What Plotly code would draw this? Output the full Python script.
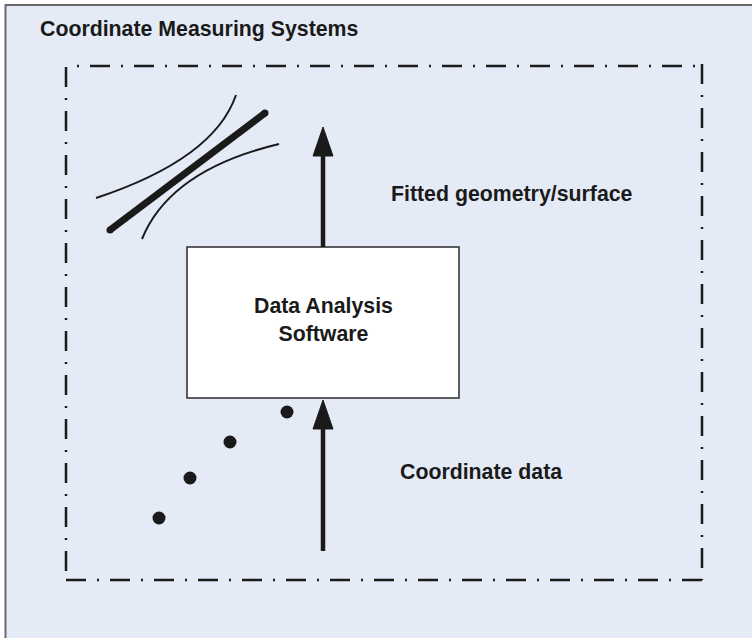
import plotly.graph_objects as go

# ---- diagram data (pixel-space coordinates on a 752 x 638 canvas) ----
W, H = 752, 638
BG = "#e5ebf6"

title_text = "Coordinate Measuring Systems"
box_text = "Data Analysis<br>Software"
upper_label = "Fitted geometry/surface"
lower_label = "Coordinate data"

# measured coordinate points
points_x = [159, 190, 230, 287]
points_y = [518, 478, 442, 412]

# fitted line (thick)
fit_x = [110, 265]
fit_y = [230, 113]

# uncertainty band curves: start, control, end (quadratic)
band_upper_x = [96, 214, 236]
band_upper_y = [198, 159, 95]
band_lower_x = [142, 170, 279]
band_lower_y = [239, 170, 144]

# software box [x0, x1], [y0, y1]
box_x = [187, 459]
box_y = [247, 398]

# arrows: x position, tail y, tip y
arrow_x = [323, 323]
arrow_tail_y = [247, 551]
arrow_tip_y = [127, 400]

# dashed system boundary
frame_x = [66, 702]
frame_y = [66, 580]

FONT = "Liberation Sans, Arial, Helvetica, sans-serif"
INK = "#1a1a1a"

fig = go.Figure()

shapes = []
# outer panel
shapes.append(dict(type="rect", xref="x", yref="y", x0=5.5, y0=5, x1=W + 20, y1=H + 20,
                   fillcolor=BG, line=dict(color="#6a6a6a", width=2), layer="below"))

# dashed boundary (four sides)
dash_a = "20px,11px,2px,11px"
dash_b = "2px,11px,20px,11px"
shapes.append(dict(type="line", xref="x", yref="y", x0=frame_x[0] + 11, y0=frame_y[0],
                   x1=frame_x[1], y1=frame_y[0], line=dict(color=INK, width=2.5, dash=dash_b)))
shapes.append(dict(type="line", xref="x", yref="y", x0=frame_x[0], y0=frame_y[0] + 1,
                   x1=frame_x[0], y1=frame_y[1], line=dict(color=INK, width=2.5, dash=dash_a)))
shapes.append(dict(type="line", xref="x", yref="y", x0=frame_x[0], y0=frame_y[1],
                   x1=frame_x[1], y1=frame_y[1], line=dict(color=INK, width=2.5, dash=dash_a)))
shapes.append(dict(type="line", xref="x", yref="y", x0=frame_x[1], y0=frame_y[0] - 2,
                   x1=frame_x[1], y1=frame_y[1], line=dict(color=INK, width=2.5, dash=dash_a)))

# software box
shapes.append(dict(type="rect", xref="x", yref="y", x0=box_x[0], y0=box_y[0], x1=box_x[1], y1=box_y[1],
                   fillcolor="white", line=dict(color="#2a2a2a", width=1.5)))

# arrows
head_h, head_w = 29, 20
for ax, ty, tip in zip(arrow_x, arrow_tail_y, arrow_tip_y):
    base = tip + head_h
    shapes.append(dict(type="line", xref="x", yref="y", x0=ax, y0=ty, x1=ax, y1=base,
                       line=dict(color=INK, width=4.5)))
    shapes.append(dict(type="path", xref="x", yref="y",
                       path=f"M {ax - head_w/2},{base} L {ax},{tip} L {ax + head_w/2},{base} Z",
                       fillcolor=INK, line=dict(color=INK, width=1)))

# band curves
for bx, by in [(band_upper_x, band_upper_y), (band_lower_x, band_lower_y)]:
    shapes.append(dict(type="path", xref="x", yref="y",
                       path=f"M {bx[0]},{by[0]} Q {bx[1]},{by[1]} {bx[2]},{by[2]}",
                       line=dict(color=INK, width=2)))

fig.update_layout(shapes=shapes)

# fitted line
fig.add_trace(go.Scatter(x=fit_x, y=fit_y, mode="lines+markers",
                         line=dict(color=INK, width=7),
                         marker=dict(size=7, color=INK), hoverinfo="skip"))
# data points
fig.add_trace(go.Scatter(x=points_x, y=points_y, mode="markers",
                         marker=dict(size=13, color=INK), hoverinfo="skip"))

ann = []
ann.append(dict(x=38, y=28.5, text=f"<b>{title_text}</b>", xanchor="left", yanchor="middle"))
ann.append(dict(x=(box_x[0] + box_x[1]) / 2, y=320, text=f"<b>{box_text}</b>", xanchor="center", yanchor="middle"))
ann.append(dict(x=389, y=193.5, text=f"<b>{upper_label}</b>", xanchor="left", yanchor="middle"))
ann.append(dict(x=398, y=471.5, text=f"<b>{lower_label}</b>", xanchor="left", yanchor="middle"))
for a in ann:
    a.update(xref="x", yref="y", showarrow=False, font=dict(family=FONT, size=21.3, color=INK))

fig.update_layout(
    annotations=ann,
    width=W, height=H, autosize=False,
    margin=dict(l=0, r=0, t=0, b=0),
    paper_bgcolor="white", plot_bgcolor="white",
    showlegend=False,
    xaxis=dict(range=[0, W], visible=False, fixedrange=True),
    yaxis=dict(range=[H, 0], visible=False, fixedrange=True),
)

fig.write_html("out.html", config={"displayModeBar": False},
               post_script="document.body.style.margin='0';document.body.style.overflow='hidden';")
